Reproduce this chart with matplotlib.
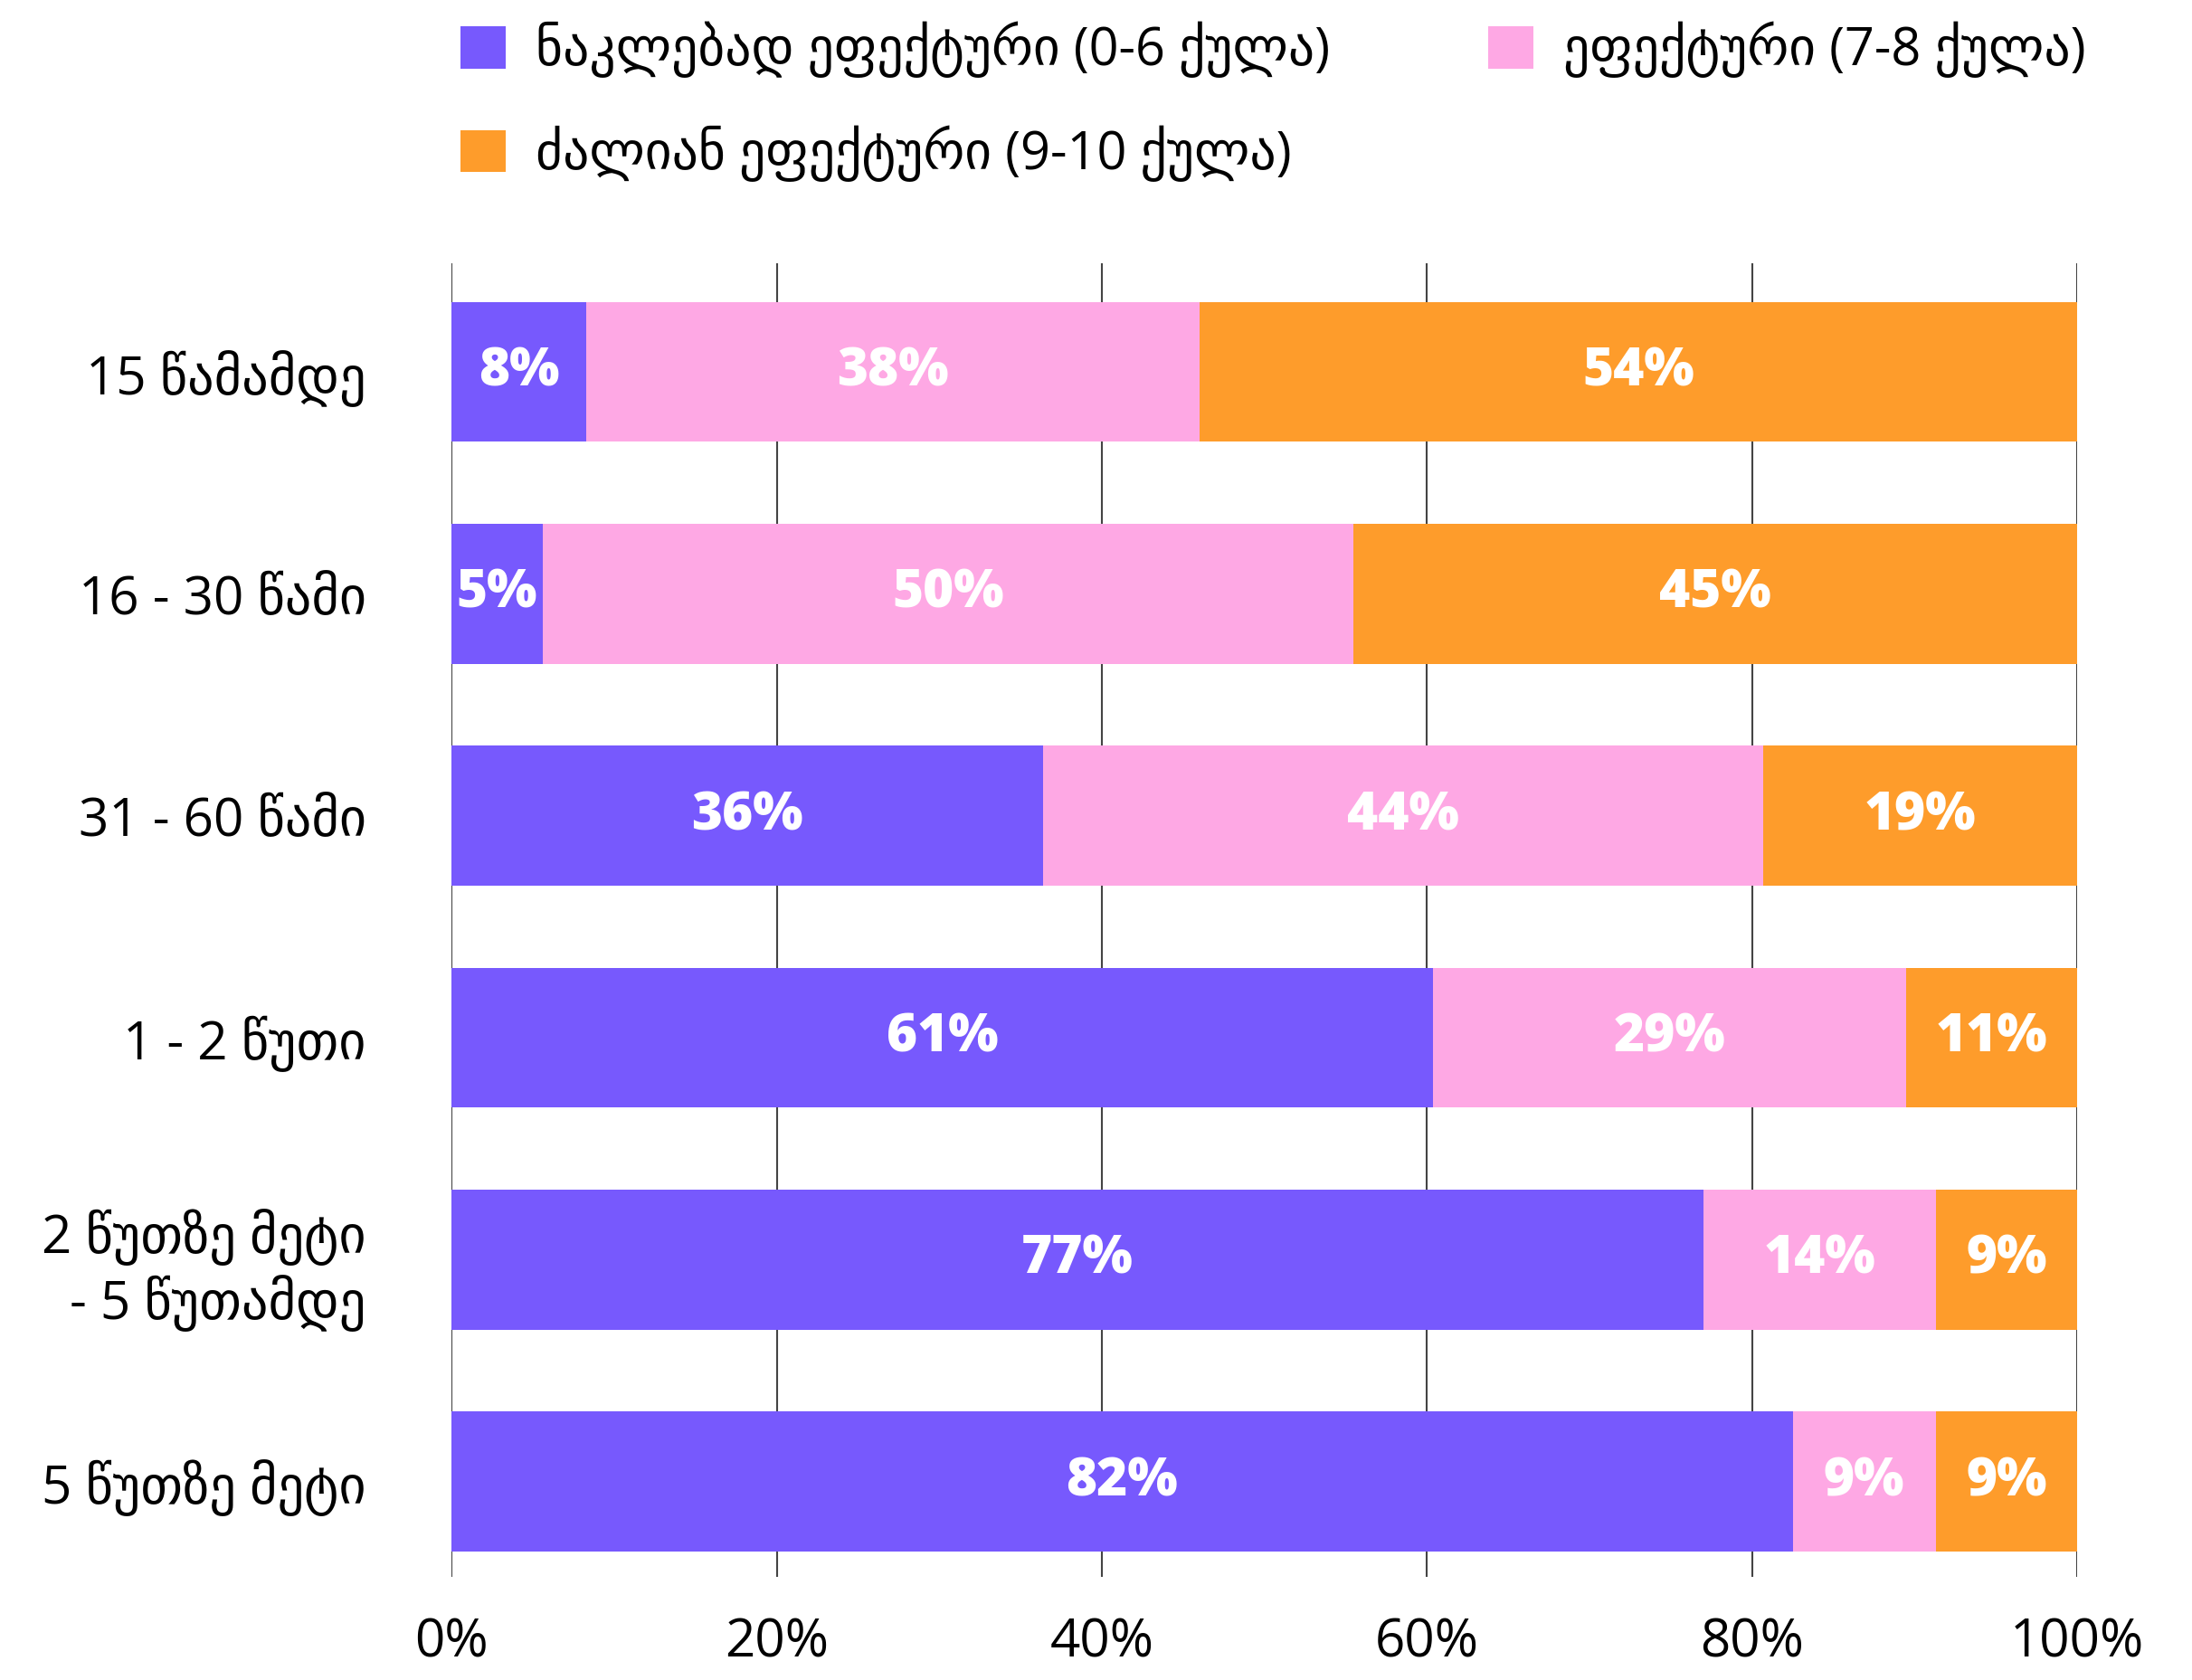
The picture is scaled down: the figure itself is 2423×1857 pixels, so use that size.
import matplotlib.pyplot as plt
import numpy as np

plt.rcParams['font.family'] = ['Open Sans', 'DejaVu Sans']

categories = [
    "15 წამამდე",
    "16 - 30 წამი",
    "31 - 60 წამი",
    "1 - 2 წუთი",
    "2 წუთზე მეტი\n- 5 წუთამდე",
    "5 წუთზე მეტი",
]
series_names = [
    "ნაკლებად ეფექტური (0-6 ქულა)",
    "ეფექტური (7-8 ქულა)",
    "ძალიან ეფექტური (9-10 ქულა)",
]
less_effective = [8.3, 5.6, 36.4, 60.4, 77.0, 82.5]
effective = [37.7, 49.9, 44.3, 29.1, 14.3, 8.8]
very_effective = [54.0, 44.5, 19.3, 10.5, 8.7, 8.7]

less_labels = ["8%", "5%", "36%", "61%", "77%", "82%"]
eff_labels = ["38%", "50%", "44%", "29%", "14%", "9%"]
very_labels = ["54%", "45%", "19%", "11%", "9%", "9%"]

colors = ["#7759fd", "#fea8e4", "#fe9c2b"]
xticks = [0, 20, 40, 60, 80, 100]

fig = plt.figure(figsize=(24.23, 18.57), dpi=100)
ax = fig.add_axes([0.206, 0.0614, 0.7416, 0.7819])

y = np.arange(len(categories))
left = np.zeros(len(categories))
handles = []
for vals, labs, col, name in zip(
    [less_effective, effective, very_effective],
    [less_labels, eff_labels, very_labels],
    colors,
    series_names,
):
    bars = ax.barh(y, vals, left=left, height=0.63, color=col, label=name, zorder=2)
    handles.append(bars)
    for yi, l, v, t in zip(y, left, vals, labs):
        ax.text(l + v / 2, yi, t, ha="center", va="center",
                color="white", fontsize=42, fontweight="heavy", zorder=3)
    left = left + np.array(vals)

ax.set_xlim(0, 100)
ax.set_ylim(5.43, -0.49)
ax.set_xticks(xticks)
ax.set_xticklabels([f"{t}%" for t in xticks], fontsize=42)
ax.set_yticks(y)
ax.set_yticklabels(categories, fontsize=42, linespacing=1.2)
ax.tick_params(axis="y", length=0, pad=68)
ax.tick_params(axis="x", length=0, pad=32)
for s in ax.spines.values():
    s.set_visible(False)
ax.grid(axis="x", color="#444444", linewidth=1.5, zorder=0)
ax.set_axisbelow(True)

fig.legend(
    [handles[0], handles[2], handles[1]],
    [series_names[0], series_names[2], series_names[1]],
    ncol=2,
    loc="upper left",
    bbox_to_anchor=(0.1885, 1.015),
    frameon=False,
    fontsize=41.5,
    handlelength=0.87,
    handleheight=0.87,
    handletextpad=0.57,
    columnspacing=3.04,
    labelspacing=0.9,
)

fig.savefig("out.png", dpi=100)
